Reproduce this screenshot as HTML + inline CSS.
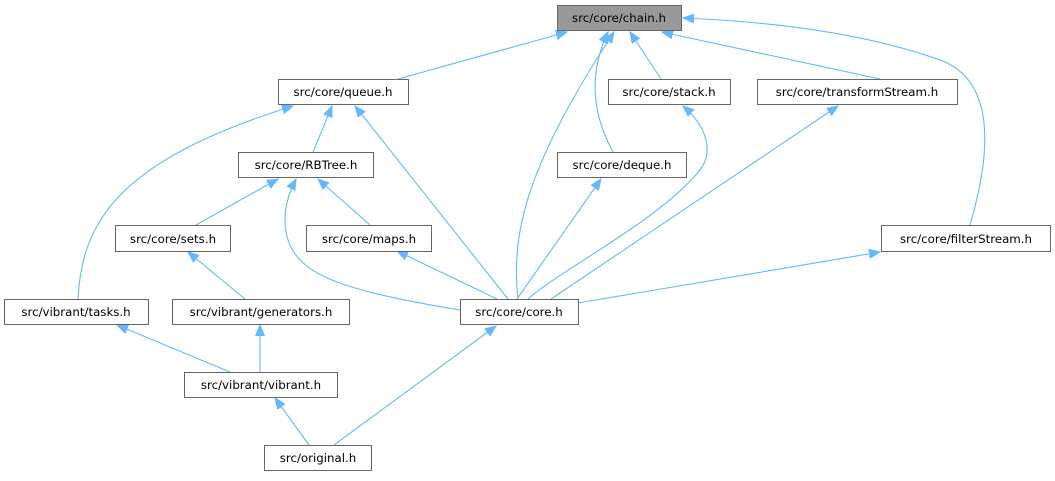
<!DOCTYPE html>
<html><head><style>
body{margin:0;background:#fff;width:1055px;height:476px;overflow:hidden}
svg text{font-family:"DejaVu Sans","Liberation Sans",sans-serif;font-size:11.8px;fill:#000}
</style></head><body>
<svg width="1055" height="476" xmlns="http://www.w3.org/2000/svg">
<defs><marker id="a" markerUnits="userSpaceOnUse" markerWidth="12" markerHeight="10" refX="11" refY="5" orient="auto"><path d="M0,0.5 L11,5 L0,9.5 z" fill="#63b8ff" stroke="#63b8ff"/></marker></defs>
<g fill="none" stroke="#63b8ff" stroke-width="1.1" marker-end="url(#a)">
<path d="M398,79 L567,32"/>
<path d="M518,299 C510,230 530,160 614,32"/>
<path d="M613,152 C590,110 590,70 608,32"/>
<path d="M661,79 L630,32"/>
<path d="M880,79 L662,32"/>
<path d="M970,225 C992,150 995,80 940,60 C870,35 780,22 683,18"/>
<path d="M78,299 C82,220 120,160 293,106"/>
<path d="M313,152 L332,106"/>
<path d="M508,299 L355,106"/>
<path d="M196,225 L278,179"/>
<path d="M370,225 L318,179"/>
<path d="M460,310 C340,290 300,275 288,240 C282,220 285,200 296,179"/>
<path d="M517,299 L601,179"/>
<path d="M528,299 C560,270 660,220 700,170 C715,150 705,125 683,106"/>
<path d="M551,299 L838,106"/>
<path d="M578,303 L880,252"/>
<path d="M497,299 L397,251"/>
<path d="M245,299 L188,252"/>
<path d="M230,372 L117,325"/>
<path d="M260,372 L260,325"/>
<path d="M309,445 L275,398"/>
<path d="M334,445 L496,326"/>
</g>
<g stroke="#666" stroke-width="1" fill="#fff">
<rect x="557.5" y="5.5" width="124" height="25" fill="#999"/>
<rect x="278.5" y="79.5" width="130" height="25"/>
<rect x="608.5" y="79.5" width="122" height="25"/>
<rect x="757.5" y="79.5" width="200" height="25"/>
<rect x="238.5" y="152.5" width="135" height="25"/>
<rect x="557.5" y="152.5" width="129" height="25"/>
<rect x="115.5" y="225.5" width="115" height="26"/>
<rect x="306.5" y="225.5" width="125" height="26"/>
<rect x="881.5" y="225.5" width="169" height="26"/>
<rect x="4.5" y="299.5" width="144" height="25"/>
<rect x="172.5" y="299.5" width="177" height="25"/>
<rect x="460.5" y="299.5" width="118" height="25"/>
<rect x="184.5" y="372.5" width="153" height="25"/>
<rect x="264.5" y="445.5" width="107" height="25"/>
</g>
<g text-anchor="middle">
<text x="619" y="22">src/core/chain.h</text>
<text x="343" y="96">src/core/queue.h</text>
<text x="669" y="96">src/core/stack.h</text>
<text x="857" y="96">src/core/transformStream.h</text>
<text x="306" y="169">src/core/RBTree.h</text>
<text x="622" y="169">src/core/deque.h</text>
<text x="173" y="243">src/core/sets.h</text>
<text x="369" y="243">src/core/maps.h</text>
<text x="966" y="243">src/core/filterStream.h</text>
<text x="76" y="316">src/vibrant/tasks.h</text>
<text x="261" y="316">src/vibrant/generators.h</text>
<text x="519" y="316">src/core/core.h</text>
<text x="261" y="389">src/vibrant/vibrant.h</text>
<text x="318" y="462">src/original.h</text>
</g>
</svg>
</body></html>
